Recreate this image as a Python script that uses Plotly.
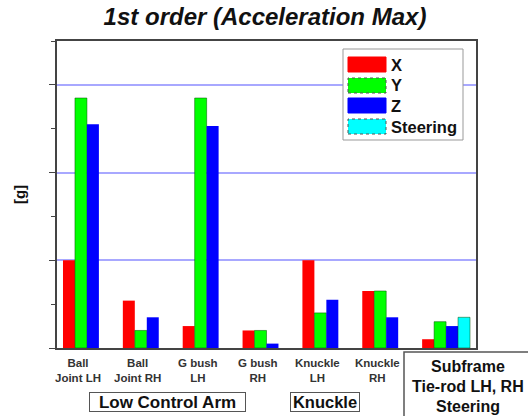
import plotly.graph_objects as go

categories = ["Ball<br>Joint LH", "Ball<br>Joint RH", "G bush<br>LH", "G bush<br>RH",
              "Knuckle<br>LH", "Knuckle<br>RH", " "]
series_names = ["X", "Y", "Z", "Steering"]
x_vals = [1.0, 0.54, 0.25, 0.2, 1.0, 0.65, 0.1]
y_vals = [2.85, 0.2, 2.85, 0.2, 0.4, 0.65, 0.3]
z_vals = [2.55, 0.35, 2.53, 0.05, 0.55, 0.35, 0.25]
steer_vals = [0, 0, 0, 0, 0, 0, 0.35]

FONT = "Liberation Sans, Arial, sans-serif"
colors = ["#ff0000", "#00ff00", "#0000ff", "#00ffff"]
dashed = [False, True, False, True]

# plot area in px
L, R, T, B = 57, 476, 41, 348
W, H = 528, 416
def px(x):
    return (x - L) / (R - L)
def py(y):
    return (B - y) / (B - T)

fig = go.Figure()
for name, vals, c, d in zip(series_names, [x_vals, y_vals, z_vals, steer_vals], colors, dashed):
    if d:
        line = dict(width=[1 if v > 0 else 0 for v in vals], color="rgba(0,80,0,0.5)")
    else:
        line = dict(width=0)
    fig.add_bar(name=name, x=categories, y=vals, marker=dict(color=c, line=line), showlegend=False,
                hoverinfo="skip")

fig.update_layout(
    width=W, height=H,
    margin=dict(l=L, r=W - R, t=T, b=H - B, autoexpand=False),
    paper_bgcolor="white", plot_bgcolor="white",
    barmode="group", bargap=0.2, bargroupgap=0,
    font=dict(family=FONT, color="#222"),
    title=dict(text="1st order (Acceleration Max)", x=px(265), xanchor="center", xref="paper",
               y=1 - 17 / H, yanchor="middle",
               font=dict(size=24, family=FONT, weight="bold", style="italic", color="#111")),
    showlegend=False,
)
fig.update_xaxes(showline=True, linecolor="#444", linewidth=1.5, mirror=True, ticks="",
                 range=[-0.5, len(categories) - 0.5], autorange=False,
                 showticklabels=False, showgrid=False)
fig.update_yaxes(range=[0, 3.5], dtick=1, showticklabels=False, showgrid=True, gridcolor="#a8a8ff", gridwidth=1.5,
                 showline=True, linecolor="#444", linewidth=1.5, mirror=True, ticks="outside", ticklen=6,
                 tickcolor="#444", zeroline=False,
                 minor=dict(dtick=0.5, ticks="outside", ticklen=4, tickcolor="#444", showgrid=False),
                 title=dict(text="[g]", standoff=20, font=dict(size=15, family=FONT, weight="bold", color="#111")))

# category labels (slightly left of group centres, as in the reference)
for cat in categories:
    if cat.strip():
        fig.add_annotation(xref="x", yref="paper", x=cat, y=py(370), text=cat, showarrow=False,
                           xanchor="center", yanchor="middle", xshift=-9,
                           font=dict(size=11.5, family=FONT, weight="bold", color="#333"))

# manual legend
fig.add_shape(type="rect", xref="paper", yref="paper", x0=px(343), x1=px(463), y0=py(140), y1=py(49),
              line=dict(color="#999", width=1), fillcolor="white", layer="above")
row_tops = [57, 78, 98, 119]
for name, c, d, top in zip(series_names, colors, dashed, row_tops):
    fig.add_shape(type="rect", xref="paper", yref="paper", x0=px(348), x1=px(386), y0=py(top + 15), y1=py(top),
                  line=dict(color="#555" if d else c, width=1, dash="dot" if d else "solid"),
                  fillcolor=c, layer="above")
    fig.add_annotation(xref="paper", yref="paper", x=px(389), y=py(top + 7.5), text=name, showarrow=False,
                       xanchor="left", yanchor="middle",
                       font=dict(size=16.5, family=FONT, weight="bold", color="#111"))

# group boxes
fig.add_annotation(xref="paper", yref="paper", x=px(167.5), y=py(401.5), text="Low Control Arm", showarrow=False,
                   xanchor="center", yanchor="middle",
                   font=dict(size=17, family=FONT, weight="bold", color="#111"), bordercolor="#555", borderwidth=1,
                   width=153, height=16, borderpad=1, bgcolor="white")
fig.add_annotation(xref="paper", yref="paper", x=px(324.5), y=py(401.5), text="Knuckle", showarrow=False,
                   xanchor="center", yanchor="middle",
                   font=dict(size=16.5, family=FONT, weight="bold", color="#111"), bordercolor="#555", borderwidth=1,
                   width=66, height=16, borderpad=1, bgcolor="white")
fig.add_shape(type="rect", xref="paper", yref="paper", x0=px(404), x1=px(540), y0=py(430), y1=py(352),
              line=dict(color="#555", width=1.5), fillcolor="rgba(0,0,0,0)")
for txt, yy in [("Subframe", 366), ("Tie-rod LH, RH", 386), ("Steering", 406)]:
    fig.add_annotation(xref="paper", yref="paper", x=px(467.5), y=py(yy), text=txt, showarrow=False,
                       xanchor="center", yanchor="middle",
                       font=dict(size=16, family=FONT, weight="bold", color="#111"))

fig.write_html("out.html", config={"displayModeBar": False},
               post_script="document.body.style.margin='0';document.body.style.overflow='hidden';")
